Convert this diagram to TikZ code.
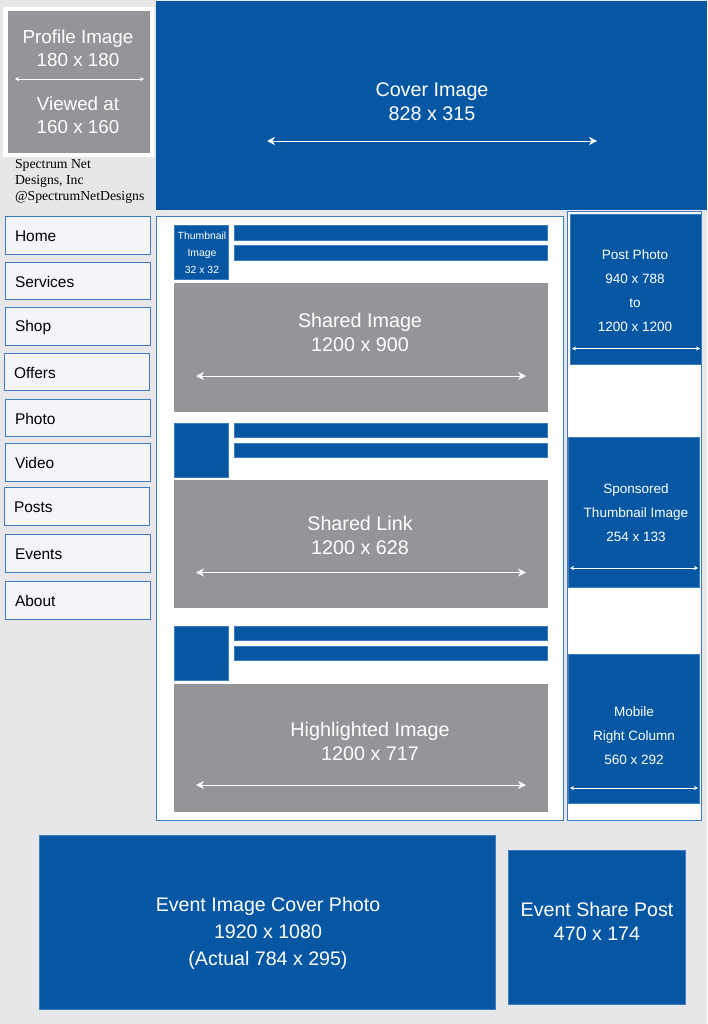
\documentclass[tikz,border=0pt]{standalone}
\usepackage{fontspec}
\setmainfont{Liberation Sans}
\newfontfamily\serifname{Liberation Serif}
\usetikzlibrary{arrows.meta}
\definecolor{pagebg}{HTML}{E7E7E9}
\definecolor{fbblue}{HTML}{0557A3}
\definecolor{fbgray}{HTML}{949598}
\definecolor{navfill}{HTML}{F4F5F9}
\definecolor{edgeblue}{HTML}{3C7DC2}
\newcommand{\bx}[6]{%
  \pgfmathsetmacro{\bw}{(#4-#2-0.7)*0.75}\pgfmathsetmacro{\bh}{(#5-#3-0.7)*0.75}%
  \node[#6,minimum width=\bw pt,minimum height=\bh pt,anchor=north west] (#1) at (#2,#3) {};}
\tikzset{
  x=0.75pt,y=-0.75pt,
  every node/.style={inner sep=0pt,outer sep=0pt},
  bluebox/.style={fill=fbblue,draw=edgeblue,line width=0.3pt},
  graybox/.style={fill=fbgray,draw=none},
  whitebox/.style={fill=white,draw=none},
  panel/.style={fill=white,draw=edgeblue,line width=0.7pt},
  navbox/.style={fill=navfill,draw=edgeblue,line width=0.75pt},
  navtext/.style={font=\fontsize{11.6pt}{14pt}\selectfont,text=black,anchor=west},
  big/.style={font=\fontsize{14.8pt}{18pt}\selectfont,text=white,align=center},
  profilefont/.style={font=\fontsize{14.1pt}{17pt}\selectfont},
  mid/.style={font=\fontsize{10.15pt}{18pt}\selectfont,text=white,align=center},
  small/.style={font=\fontsize{7.8pt}{12.75pt}\selectfont,text=white,align=center},
  wideline/.style={draw=white,line width=0.55pt,{Stealth[length=6pt,width=6pt]}-{Stealth[length=6pt,width=6pt]}},
  thinline/.style={draw=white,line width=0.45pt,{Stealth[length=3pt,width=3pt]}-{Stealth[length=3pt,width=3pt]}},
}
\begin{document}
\begin{tikzpicture}
\useasboundingbox (0,0) rectangle (707,1024);
\fill[pagebg] (0,0) rectangle (707,1024);
% profile
\bx{profileframe}{3}{7}{154.7}{157.7}{whitebox}
\bx{profile}{8}{11}{150.7}{153.7}{graybox}
\node[big,profilefont] (profiletop) at (78,48) {Profile Image\\180 x 180};
\node[big,profilefont] (profilebot) at (78,115.5) {Viewed at\\160 x 160};
\coordinate (pl) at (15,79); \coordinate (pr) at (144,79);
\draw[thinline] (pl) -- (pr);
\node[anchor=north west,align=left,text=black,font=\serifname\fontsize{10.3pt}{12pt}\selectfont] (pagename) at (15,159.5) {Spectrum Net\\Designs, Inc\\@SpectrumNetDesigns};
% cover
\bx{cover}{156}{1}{708}{210.7}{fill=fbblue}
\node[big] (covertext) at (432,101.5) {Cover Image\\828 x 315};
\coordinate (cl) at (267,141); \coordinate (cr) at (597,141);
\draw[wideline] (cl) -- (cr);
% nav
\bx{n1}{5}{216}{151}{255}{navbox}\node[navtext] at (15,236) {Home};
\bx{n2}{5}{262}{151}{300}{navbox}\node[navtext] at (15,281.5) {Services};
\bx{n3}{5}{307}{151}{346}{navbox}\node[navtext] at (15,327.5) {Shop};
\bx{n4}{4}{353}{150}{391}{navbox}\node[navtext] at (14,372.5) {Offers};
\bx{n5}{5}{399}{151}{437}{navbox}\node[navtext] at (15,418.5) {Photo};
\bx{n6}{5}{443}{151}{482}{navbox}\node[navtext] at (15,463) {Video};
\bx{n7}{4}{487}{150}{526}{navbox}\node[navtext] at (14,507) {Posts};
\bx{n8}{5}{534}{151}{573}{navbox}\node[navtext] at (15,554) {Events};
\bx{n9}{5}{581}{151}{620}{navbox}\node[navtext] at (15,601) {About};
% main panel
\bx{mainpanel}{156}{216}{564}{821}{panel}
\bx{t1}{174}{225}{229}{280}{bluebox}
\node[small] (t1text) at (202,252.5) {Thumbnail\\Image\\32 x 32};
\bx{b11}{234}{225}{548}{241}{bluebox}
\bx{b12}{234}{245}{548}{261}{bluebox}
\bx{g1}{174}{283}{548.7}{412.7}{graybox}
\node[big] (g1text) at (360,332) {Shared Image\\1200 x 900};
\coordinate (g1l) at (196,376); \coordinate (g1r) at (526,376);
\draw[wideline] (g1l) -- (g1r);
\bx{t2}{174}{423}{229}{478}{bluebox}
\bx{b21}{234}{423}{548}{438}{bluebox}
\bx{b22}{234}{443}{548}{458}{bluebox}
\bx{g2}{174}{480}{548.7}{608.7}{graybox}
\node[big] (g2text) at (360,535) {Shared Link\\1200 x 628};
\coordinate (g2l) at (196,572.5); \coordinate (g2r) at (526,572.5);
\draw[wideline] (g2l) -- (g2r);
\bx{t3}{174}{626}{229}{681}{bluebox}
\bx{b31}{234}{626}{548}{641}{bluebox}
\bx{b32}{234}{646}{548}{661}{bluebox}
\bx{g3}{174}{684}{548.7}{812.7}{graybox}
\node[big] (g3text) at (370,741) {Highlighted Image\\1200 x 717};
\coordinate (g3l) at (196,785); \coordinate (g3r) at (526,785);
\draw[wideline] (g3l) -- (g3r);
% right column
\bx{rightpanel}{567}{211}{702}{821}{panel}
\bx{post}{570}{214}{702}{365}{bluebox}
\node[mid] (posttext) at (635,290.5) {Post Photo\\940 x 788\\to\\1200 x 1200};
\coordinate (pol) at (572,348.5); \coordinate (por) at (700,348.5);
\draw[thinline] (pol) -- (por);
\bx{spons}{568}{437}{700}{588}{bluebox}
\node[mid] (sponstext) at (636,512.5) {Sponsored\\Thumbnail Image\\254 x 133};
\coordinate (sl) at (570,568); \coordinate (sr) at (698,568);
\draw[thinline] (sl) -- (sr);
\bx{mobile}{568}{654}{700}{804}{bluebox}
\node[mid] (mobiletext) at (634,735.5) {Mobile\\Right Column\\560 x 292};
\coordinate (ml) at (570,788); \coordinate (mr) at (698,788);
\draw[thinline] (ml) -- (mr);
% events
\bx{event}{39}{835}{496}{1010}{bluebox}
\node[big,font=\fontsize{14.7pt}{20.25pt}\selectfont] (eventtext) at (268,933) {Event Image Cover Photo\\1920 x 1080\\(Actual 784 x 295)};
\bx{share}{508}{850}{686}{1005}{bluebox}
\node[big,font=\fontsize{14.7pt}{18pt}\selectfont] (sharetext) at (597,921) {Event Share Post\\470 x 174};
\end{tikzpicture}
\end{document}
